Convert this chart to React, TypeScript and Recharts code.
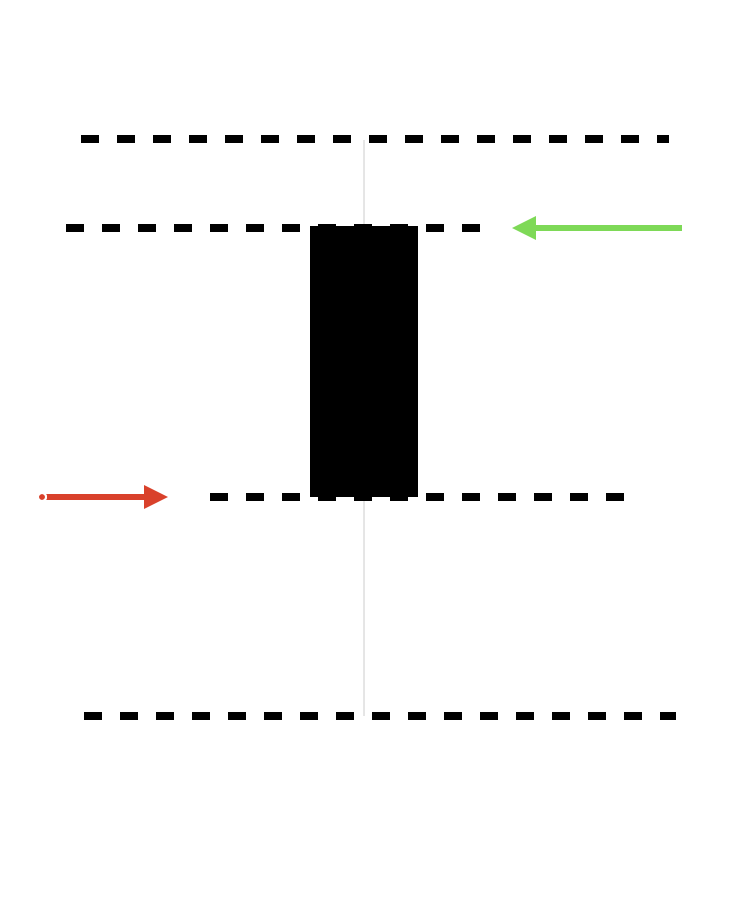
import React from 'react';
import { ComposedChart, Line, XAxis, YAxis } from 'recharts';

// Values are in chart units: x 0..750, y 0..900 (y grows upward)
const wickX = [364, 364];
const wickY = [184, 760];
const bodyX = [364, 364];
const bodyY = [403, 674];
const levelNames = ['high', 'open', 'close', 'low'];
const levelY = [761, 672, 403, 184];
const levelStart = [81, 66, 210, 84];
const levelEnd = [669, 480, 624, 676];
const greenArrowX = [682, 512];
const greenArrowY = [672, 672];
const redArrowX = [42, 168];
const redArrowY = [403, 403];

const pts = (xs: number[], ys: number[]) => xs.map((x, i) => ({ x, y: ys[i] }));

const arrowHead = (color: string, tipIndex: number) => (props: any) => {
  const { cx, cy, index, payload } = props;
  if (index !== tipIndex) return <g key={`d-${index}`} />;
  const dir = payload.x > props.points?.[0]?.x ? 1 : -1;
  const d = dir;
  const base = cx - d * 24;
  return (
    <polygon
      key={`h-${index}`}
      points={`${cx},${cy} ${base},${cy - 12} ${base},${cy + 12}`}
      fill={color}
    />
  );
};

export default function App() {
  return (
    <div style={{ position: 'absolute', left: 0, top: 0, background: '#fff' }}>
      <ComposedChart width={750} height={900} margin={{ top: 0, right: 0, bottom: 0, left: 0 }}>
        <XAxis type="number" dataKey="x" domain={[0, 750]} hide />
        <YAxis type="number" dataKey="y" domain={[0, 900]} hide />
        <Line data={pts(wickX, wickY)} dataKey="y" stroke="#cccccc" strokeWidth={1} dot={false} isAnimationActive={false} />
        <Line data={pts(bodyX, bodyY)} dataKey="y" stroke="#000" strokeWidth={108} strokeLinecap="butt" dot={false} isAnimationActive={false} />
        {levelNames.map((n, i) => (
          <Line
            key={n}
            data={pts([levelStart[i], levelEnd[i]], [levelY[i], levelY[i]])}
            dataKey="y"
            stroke="#000"
            strokeWidth={8}
            strokeDasharray="18 18"
            dot={false}
            isAnimationActive={false}
          />
        ))}
        <Line
          data={pts([greenArrowX[0], greenArrowX[1] + 20], greenArrowY)}
          dataKey="y"
          stroke="#7ed957"
          strokeWidth={6}
          dot={false}
          isAnimationActive={false}
        />
        <Line
          data={pts(greenArrowX, greenArrowY)}
          dataKey="y"
          stroke="none"
          dot={(p: any) => (p.index === 1 ? (
            <polygon key="g" points={`${p.cx},${p.cy} ${p.cx + 24},${p.cy - 12} ${p.cx + 24},${p.cy + 12}`} fill="#7ed957" />
          ) : <g key="g0" />)}
          isAnimationActive={false}
        />
        <Line
          data={pts([redArrowX[0], redArrowX[1] - 20], redArrowY)}
          dataKey="y"
          stroke="#d9412b"
          strokeWidth={6}
          dot={false}
          isAnimationActive={false}
        />
        <Line
          data={pts(redArrowX, redArrowY)}
          dataKey="y"
          stroke="none"
          dot={(p: any) => (p.index === 1 ? (
            <polygon key="r" points={`${p.cx},${p.cy} ${p.cx - 24},${p.cy - 12} ${p.cx - 24},${p.cy + 12}`} fill="#d9412b" />
          ) : <g key="r0" />)}
          isAnimationActive={false}
        />
      </ComposedChart>
    </div>
  );
}
